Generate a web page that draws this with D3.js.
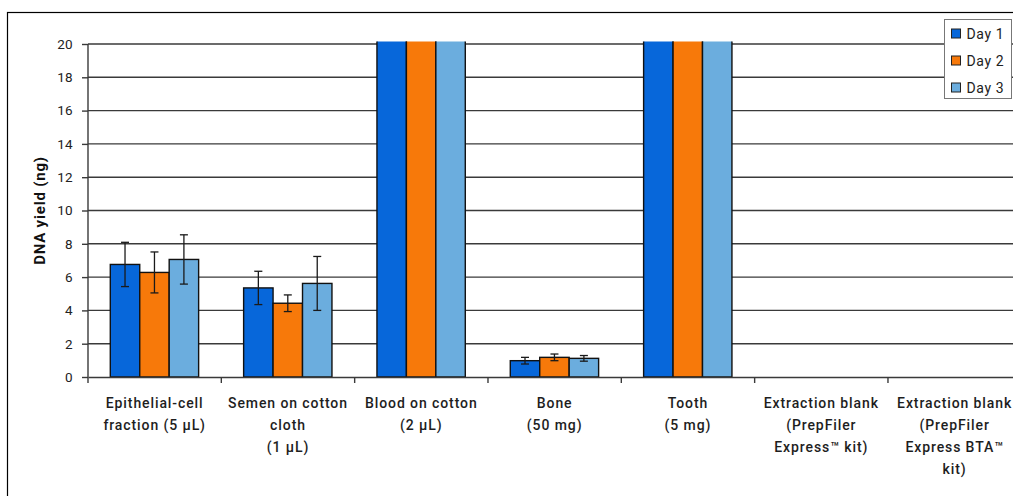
<!DOCTYPE html>
<html>
<head>
<meta charset="utf-8">
<script src="https://cdn.jsdelivr.net/npm/d3@7"></script>
<style>
  html, body { margin: 0; padding: 0; background: #fff; }
  svg { display: block; font-family: Roboto, "Liberation Sans", sans-serif; }
</style>
</head>
<body>
<svg id="chart" width="1013" height="496"></svg>
<script>
// Sample types (each entry is one wrapped label, line by line)
const categories = [
  ["Epithelial-cell", "fraction (5 µL)"],
  ["Semen on cotton", "cloth", "(1 µL)"],
  ["Blood on cotton", "(2 µL)"],
  ["Bone", "(50 mg)"],
  ["Tooth", "(5 mg)"],
  ["Extraction blank", "(PrepFiler", "Express™ kit)"],
  ["Extraction blank", "(PrepFiler", "Express BTA™", "kit)"]
];
const seriesNames = ["Day 1", "Day 2", "Day 3"];

// Mean DNA yield (ng); blood and tooth run off the top of the axis
const day1 = [6.76, 5.35, 30, 0.98, 30, 0, 0];
const day2 = [6.28, 4.43, 30, 1.18, 30, 0, 0];
const day3 = [7.06, 5.62, 30, 1.12, 30, 0, 0];

// Standard deviations
const sd1 = [1.33, 1.00, 0, 0.20, 0, 0, 0];
const sd2 = [1.23, 0.50, 0, 0.20, 0, 0, 0];
const sd3 = [1.48, 1.62, 0, 0.17, 0, 0, 0];

const yTicks = [0, 2, 4, 6, 8, 10, 12, 14, 16, 18, 20];
const colors = ["#0767da", "#f7790a", "#6badde"];

const svg = d3.select("#chart");
const W = 1013, H = 496;
const plot = { left: 88, top: 44, bottom: 377, right: 1021.3 };

const catKeys = categories.map(c => c.join(" "));
const x = d3.scaleBand().domain(catKeys).range([plot.left, plot.right]);
const xs = d3.scaleBand().domain(seriesNames).range([22.3, x.bandwidth() - 22.7]);
const y = d3.scaleLinear().domain([0, 20]).range([plot.bottom, plot.top]);

const values = [day1, day2, day3];
const sds = [sd1, sd2, sd3];

// Outer frame
svg.append("rect")
  .attr("x", 7.5).attr("y", 12.5)
  .attr("width", 1200).attr("height", 700)
  .attr("fill", "none").attr("stroke", "#000").attr("stroke-width", 1.2);

// Horizontal gridlines + left ticks
const yAxis = d3.axisLeft(y).tickValues(yTicks).tickSize(6).tickPadding(9).tickFormat(d3.format("d"));
const gy = svg.append("g").attr("transform", `translate(${plot.left},0)`).call(yAxis);
gy.select(".domain").remove();
gy.selectAll(".tick line").attr("stroke", "#3a3a3a").attr("stroke-width", 1.4);
gy.selectAll(".tick text").attr("fill", "#222").attr("font-size", 13.5)
  .attr("letter-spacing", "0.3px").attr("font-family", "Roboto, sans-serif");

svg.append("g").selectAll("line.grid")
  .data(yTicks.filter(t => t > 0))
  .join("line")
  .attr("x1", plot.left).attr("x2", W)
  .attr("y1", d => y(d)).attr("y2", d => y(d))
  .attr("stroke", "#3a3a3a").attr("stroke-width", 1.4);

// Clip so tall bars stop just above the 20 ng line
svg.append("clipPath").attr("id", "plotClip")
  .append("rect").attr("x", plot.left).attr("y", plot.top - 2.5)
  .attr("width", W - plot.left).attr("height", plot.bottom - plot.top + 10);

const barsG = svg.append("g").attr("clip-path", "url(#plotClip)");

const rows = [];
catKeys.forEach((k, i) => {
  seriesNames.forEach((s, j) => {
    rows.push({ cat: k, series: s, j, v: values[j][i], sd: sds[j][i] });
  });
});

barsG.selectAll("rect.bar")
  .data(rows.filter(d => d.v > 0))
  .join("rect")
  .attr("class", "bar")
  .attr("x", d => x(d.cat) + xs(d.series))
  .attr("width", xs.bandwidth())
  .attr("y", d => y(d.v))
  .attr("height", d => y(0) - y(d.v))
  .attr("fill", d => colors[d.j])
  .attr("stroke", "#111").attr("stroke-width", 1.4);

// Error bars
const errRows = rows.filter(d => d.sd > 0);
const eg = svg.append("g").attr("stroke", "#1a1a1a").attr("stroke-width", 1.3);
errRows.forEach(d => {
  const cx = x(d.cat) + xs(d.series) + xs.bandwidth() / 2;
  const y1 = y(d.v + d.sd), y2 = y(d.v - d.sd);
  eg.append("line").attr("x1", cx).attr("x2", cx).attr("y1", y1).attr("y2", y2);
  eg.append("line").attr("x1", cx - 4).attr("x2", cx + 4).attr("y1", y1).attr("y2", y1);
  eg.append("line").attr("x1", cx - 4).attr("x2", cx + 4).attr("y1", y2).attr("y2", y2);
});

// Axis lines
svg.append("line")
  .attr("x1", plot.left).attr("x2", plot.left)
  .attr("y1", plot.top).attr("y2", plot.bottom + 6)
  .attr("stroke", "#3a3a3a").attr("stroke-width", 1.4);

const xAxis = d3.axisBottom(x).tickSize(0).tickFormat("");
const gx = svg.append("g").attr("transform", `translate(0,${plot.bottom})`).call(xAxis);
gx.select(".domain").attr("stroke", "#3a3a3a").attr("stroke-width", 1.4);
gx.selectAll(".tick").remove();

// Category boundary ticks
svg.append("g").selectAll("line")
  .data(catKeys.slice(1))
  .join("line")
  .attr("x1", d => x(d)).attr("x2", d => x(d))
  .attr("y1", plot.bottom).attr("y2", plot.bottom + 6)
  .attr("stroke", "#3a3a3a").attr("stroke-width", 1.4);

// Category labels
const lab = svg.append("g")
  .attr("font-size", 14).attr("font-weight", 500).attr("fill", "#1e1e1e")
  .attr("text-anchor", "middle").attr("letter-spacing", "0.9px");
categories.forEach((lines, i) => {
  const cx = x(catKeys[i]) + x.bandwidth() / 2;
  const t = lab.append("text").attr("x", cx).attr("y", 408);
  lines.forEach((ln, li) => {
    t.append("tspan").attr("x", cx).attr("dy", li === 0 ? 0 : 22).text(ln);
  });
});

// Y-axis title
svg.append("text")
  .attr("transform", `translate(45,${y(10)}) rotate(-90)`)
  .attr("text-anchor", "middle")
  .attr("font-size", 15).attr("font-weight", 700).attr("fill", "#111")
  .attr("letter-spacing", "0.8px")
  .text("DNA yield (ng)");

// Legend
const lg = svg.append("g").attr("transform", "translate(944.5,19.5)");
lg.append("rect").attr("width", 67).attr("height", 79)
  .attr("fill", "#fff").attr("stroke", "#777").attr("stroke-width", 1);
seriesNames.forEach((s, j) => {
  const cy = 14 + j * 27;
  lg.append("rect").attr("x", 7).attr("y", cy - 4.5).attr("width", 9).attr("height", 9)
    .attr("fill", colors[j]).attr("stroke", "#222").attr("stroke-width", 1);
  lg.append("text").attr("x", 22).attr("y", cy + 5)
    .attr("font-size", 14).attr("fill", "#222").attr("letter-spacing", "0.6px").text(s);
});
</script>
</body>
</html>
